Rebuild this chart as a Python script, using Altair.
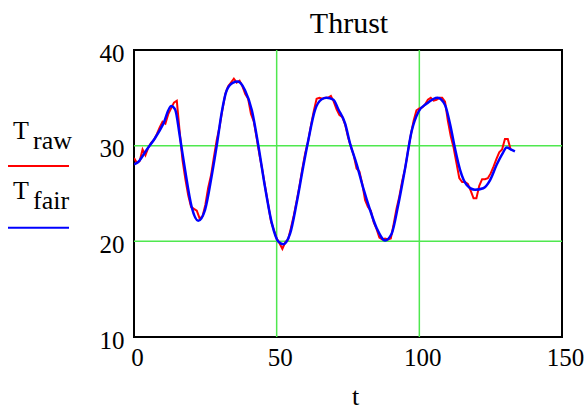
import altair as alt
import pandas as pd

# ---- data ----
t_raw = list(range(0, 133))
T_raw = [28.7, 28.2, 28.4, 29.6, 29.0, 29.8, 30.3, 30.6, 31.2, 31.9,
         32.5, 32.3, 33.3, 33.9, 34.5, 34.7, 31.5, 28.5, 26.5, 24.8,
         23.6, 23.4, 23.2, 22.4, 22.6, 23.8, 25.6, 26.9, 28.8, 30.6,
         32.0, 33.8, 35.4, 36.2, 36.6, 37.0, 36.6, 36.8, 36.2, 35.4,
         34.9, 33.3, 32.5, 30.8, 29.0, 27.4, 25.6, 23.9, 22.1, 21.2,
         20.3, 19.8, 19.2, 19.9, 20.2, 21.4, 22.7, 24.2, 25.8, 27.6,
         29.2, 30.4, 32.1, 33.6, 34.9, 35.0, 34.9, 35.0, 35.0, 35.2,
         34.6, 33.8, 33.2, 33.0, 32.2, 30.9, 29.9, 29.0, 27.6, 27.3,
         26.0, 24.3, 23.6, 23.2, 22.0, 21.3, 20.4, 20.2, 20.3, 20.2,
         20.3, 21.8, 23.4, 24.7, 26.3, 27.6, 29.4, 31.1, 32.6, 33.7,
         33.9, 34.0, 34.3, 34.8, 35.0, 34.7, 34.8, 35.0, 35.0, 34.6,
         32.6, 31.0, 29.8, 28.2, 26.6, 26.2, 26.2, 26.0, 25.3, 24.5,
         24.5, 25.8, 26.5, 26.5, 26.6, 27.1, 27.8, 28.6, 29.3, 29.6,
         30.7, 30.7, 29.6]

t_fair = [0, 1.5, 4.4, 7.4, 10.3, 13, 14.4, 16.1, 17.9, 20.2,
          22.5, 24.9, 27.2, 29.2, 30.7, 32.5, 34.8, 36.3, 38.9, 41.3,
          43.6, 45.9, 48.3, 50.6, 52.3, 54.7, 57, 59.3, 61.1, 63.4,
          65.8, 67.5, 69.9, 71.6, 74, 75.7, 78.1, 80.4, 82.7, 85.1,
          88, 90.3, 92.6, 95, 97.3, 99.7, 102.6, 106.4, 109, 110.8,
          112.5, 114.3, 116.6, 119.5, 122.4, 124.8, 127.1, 129.2, 130.6, 132.4,
          133.5]
T_fair = [28.05, 28.3, 29.55, 30.8, 32.3, 34.15, 33.8, 30.9, 27.45, 23.6,
          22.15, 23.3, 26.8, 30.4, 33.4, 35.8, 36.6, 36.7, 35.8, 33.7,
          29.97, 25.7, 21.9, 19.96, 19.7, 20.8, 24.0, 27.8, 30.6, 33.7,
          34.85, 35.0, 34.8, 33.8, 32.3, 30.25, 28.0, 25.5, 23.3, 21.35,
          20.1, 20.8, 23.8, 27.6, 31.5, 33.55, 34.4, 35.0, 34.25, 32.2,
          29.7, 27.45, 25.9, 25.4, 25.55, 26.4, 28.0, 29.2, 29.8, 29.55,
          29.4]

x_ticks = [0, 50, 100, 150]
y_ticks = [10, 20, 30, 40]
grid_x = [50, 100]
grid_y = [20, 30]
legend_subs = ["raw", "fair"]
legend_colors = ["#ff0000", "#0000ff"]
title_text = "Thrust"

FONT = "Liberation Serif, Times, serif"
GRID = "#4fe84f"
W, H = 428, 287

raw_df = pd.DataFrame({"t": t_raw, "T": T_raw})
fair_df = pd.DataFrame({"t": t_fair, "T": T_fair})

xs = alt.Scale(domain=[0, 150], nice=False, zero=False)
ys = alt.Scale(domain=[10, 40], nice=False, zero=False)

x_axis = alt.Axis(values=x_ticks, title="t", grid=False,
                  domain=False, ticks=False, tickSize=0, labelFont=FONT, labelFontSize=25,
                  labelColor="black", labelPadding=8, labelOffset=3, labelFlush=False,
                  titleFont=FONT, titleFontSize=26, titleFontWeight="normal", titleColor="black",
                  titleX=221, titleY=67, titleBaseline="alphabetic", titleAlign="center")
y_axis = alt.Axis(values=y_ticks, title=None, grid=False,
                  domain=False, ticks=False, tickSize=0, labelFont=FONT, labelFontSize=25,
                  labelColor="black", labelPadding=10, labelOffset=3, labelFlush=False)

gx = alt.Chart(pd.DataFrame({"g": grid_x})).mark_rule(color=GRID, strokeWidth=1.5).encode(
    x=alt.X("g:Q", scale=xs, axis=x_axis))
gy = alt.Chart(pd.DataFrame({"g": grid_y})).mark_rule(color=GRID, strokeWidth=1.5).encode(
    y=alt.Y("g:Q", scale=ys, axis=y_axis))

raw = alt.Chart(raw_df).mark_line(color=legend_colors[0], strokeWidth=2, clip=True).encode(
    x=alt.X("t:Q", scale=xs, axis=x_axis),
    y=alt.Y("T:Q", scale=ys, axis=y_axis),
)
fair = alt.Chart(fair_df).mark_line(color=legend_colors[1], strokeWidth=2.5, interpolate="monotone", clip=True).encode(
    x=alt.X("t:Q", scale=xs, axis=x_axis),
    y=alt.Y("T:Q", scale=ys, axis=y_axis),
)

one = pd.DataFrame({"a": [0]})
title_layer = alt.Chart(one).mark_text(text=title_text, font=FONT, fontSize=30, align="center",
                                       baseline="alphabetic", color="black").encode(
    x=alt.value(215), y=alt.value(-17))

legend_layers = []
for i, (sub, col) in enumerate(zip(legend_subs, legend_colors)):
    dy = i * 60
    legend_layers.append(alt.Chart(one).mark_text(text="T", font=FONT, fontSize=26, align="left",
                                                  baseline="alphabetic", color="black").encode(
        x=alt.value(-121), y=alt.value(89 + dy)))
    legend_layers.append(alt.Chart(one).mark_text(text=sub, font=FONT, fontSize=26, align="left",
                                                  baseline="alphabetic", color="black").encode(
        x=alt.value(-101), y=alt.value(98.5 + dy)))
    legend_layers.append(alt.Chart(one).mark_rule(color=col, strokeWidth=2).encode(
        x=alt.value(-126), x2=alt.value(-65), y=alt.value(116 + dy * 1.03)))

chart = alt.layer(gx, gy, raw, fair, title_layer, *legend_layers).properties(
    width=W, height=H,
    background="white",
    autosize=alt.AutoSizeParams(type="none"),
    padding={"left": 134, "top": 50, "right": 25, "bottom": 72},
).configure_view(stroke="black", strokeWidth=2)

chart.save("out.html", embed_options={"renderer": "svg", "actions": False})
